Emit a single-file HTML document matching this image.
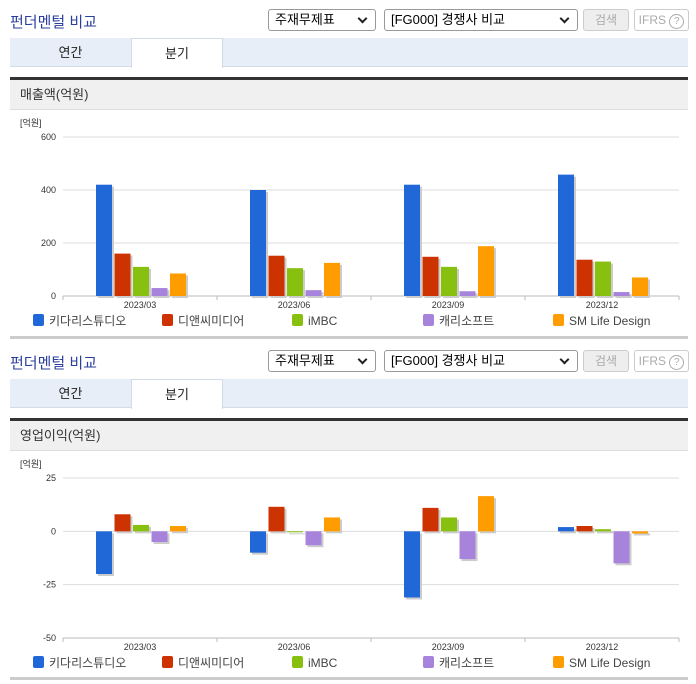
<!DOCTYPE html>
<html><head><meta charset="utf-8">
<style>
body{margin:0;width:696px;height:684px;background:#fff;font-family:"Liberation Sans","Noto Sans CJK KR",sans-serif;position:relative;overflow:hidden}
.blk{position:absolute;left:0;width:696px;height:341px}
.title{position:absolute;left:10px;top:11px;font-size:15px;color:#2a3f9e}
.sel{position:absolute;top:9px;height:22px;border:1px solid #999;border-radius:3px;box-sizing:border-box;font-size:13px;line-height:19px;padding:0 6px;background:#fff}
.sel:after{content:"";position:absolute;right:9px;top:5px;width:5px;height:5px;border-right:2px solid #222;border-bottom:2px solid #222;transform:rotate(45deg)}
.btn{position:absolute;top:9px;height:22px;border:1px solid #ccc;border-radius:3px;box-sizing:border-box;font-size:12px;color:#aaa;text-align:center;line-height:20px;background:#eee}
.tabs{position:absolute;left:10px;top:38px;width:678px;height:29px;background:#e8eef7;border-bottom:1px solid #d4dbe6;box-sizing:border-box}
.tab{position:absolute;top:0;height:29px;line-height:29px;font-size:13px;text-align:center;color:#222}
.dark{position:absolute;left:10px;top:77px;width:678px;height:3px;background:#333}
.sh{position:absolute;left:10px;top:80px;width:678px;height:30px;background:#f0f0f0;border-bottom:1px solid #ddd;box-sizing:border-box;font-size:13px;line-height:30px;padding-left:10px;color:#333}
.sep{position:absolute;left:10px;top:336px;width:678px;height:3px;background:#ccc}
svg{position:absolute;left:0;top:0}
</style></head><body>
<script>
const categories=["2023/03","2023/06","2023/09","2023/12"];
const seriesNames=["키다리스튜디오","디앤씨미디어","iMBC","캐리소프트","SM Life Design"];
const colors=["#2068d8","#cc3300","#88c010","#a883dc","#ff9c00"];
const revKida=[420,400,420,458];
const revDnc=[160,152,148,137];
const revImbc=[110,105,110,130];
const revCarry=[30,22,18,15];
const revSm=[85,125,188,70];
const revTicks=[0,200,400,600];
const opKida=[-20,-10,-31,2];
const opDnc=[8,11.5,11,2.5];
const opImbc=[3,0,6.5,1];
const opCarry=[-5,-6.5,-13,-15];
const opSm=[2.5,6.5,16.5,-1];
const opTicks=[-50,-25,0,25];
</script>
<div class="blk" id="b0" style="top:0"></div>
<div class="blk" id="b1" style="top:341px"></div>
<script>
const NS="http://www.w3.org/2000/svg";
function mk(tag,attrs,parent){const e=document.createElementNS(NS,tag);for(const k in attrs)e.setAttribute(k,attrs[k]);parent.appendChild(e);return e;}
function build(id,secTitle,series,ticks,minV,maxV,yTop,yBot){
  const b=document.getElementById(id);
  b.innerHTML=`<div class="title">펀더멘털 비교</div>
  <div class="sel" style="left:268px;width:108px">주재무제표</div>
  <div class="sel" style="left:384px;width:194px">[FG000] 경쟁사 비교</div>
  <div class="btn" style="left:583px;width:46px">검색</div>
  <div class="btn" style="left:634px;width:55px;background:#fff">IFRS <span style="border:1px solid #aaa;border-radius:50%;display:inline-block;width:13px;height:13px;line-height:13px;font-size:10px">?</span></div>
  <div class="tabs">
    <div class="tab" style="left:0;width:121px">연간</div>
    <div class="tab" style="left:121px;width:92px;background:#fff;border:1px solid #d4dbe6;border-bottom:none;box-sizing:border-box;height:30px">분기</div>
  </div>
  <div class="dark"></div>
  <div class="sh">${secTitle}</div>
  <div class="sep"></div>`;
  const svg=mk("svg",{width:696,height:341},b);
  
  
  const x0=63,x1=679,cw=(x1-x0)/categories.length;
  const y=v=>yBot-(v-minV)/(maxV-minV)*(yBot-yTop);
  const u=mk("text",{x:20,y:yTop-11,"font-size":9,fill:"#333"},svg);u.textContent="[억원]";
  
  ticks.forEach(t=>{
    mk("line",{x1:x0,x2:x1,y1:y(t),y2:y(t),stroke:"#ddd"},svg);
    const tx=mk("text",{x:56,y:y(t)+3,"font-size":9,fill:"#333","text-anchor":"end"},svg);tx.textContent=t;
    
  });
  mk("line",{x1:x0,x2:x1,y1:yBot,y2:yBot,stroke:"#bbb"},svg);
  for(let i=0;i<=categories.length;i++)mk("line",{x1:x0+i*cw,x2:x0+i*cw,y1:yBot,y2:yBot+4,stroke:"#bbb"},svg);
  categories.forEach((c,i)=>{
    const t=mk("text",{x:x0+cw*i+cw/2,y:yBot+12,"font-size":9,fill:"#333","text-anchor":"middle"},svg);t.textContent=c;
    
    series.forEach((s,j)=>{
      const v=s[i],bx=x0+cw*i+33+j*18.5;
      const ya=y(Math.max(v,0)),yb=y(Math.min(v,0));
      const h=Math.max(yb-ya,1);
      mk("rect",{x:bx+2,y:ya+2,width:16,height:h,fill:"#ccc"},svg);
      const r=mk("rect",{x:bx,y:ya,width:16,height:h,fill:colors[j]},svg);
      
      
    });
  });
  const lx=[33,162,292,423,553];
  seriesNames.forEach((n,j)=>{
    const ly=yBot+24;
    const r=mk("rect",{x:lx[j],y:ly-6,width:11,height:12,rx:2,fill:colors[j]},svg);
    
    const t=mk("text",{x:lx[j]+16,y:ly+5,"font-size":12,fill:"#444"},svg);t.textContent=n;
    
    
  });
}
build("b0","매출액(억원)",[revKida,revDnc,revImbc,revCarry,revSm],revTicks,0,600,137,296);
build("b1","영업이익(억원)",[opKida,opDnc,opImbc,opCarry,opSm],opTicks,-50,25,137,297);
</script>
</body></html>
